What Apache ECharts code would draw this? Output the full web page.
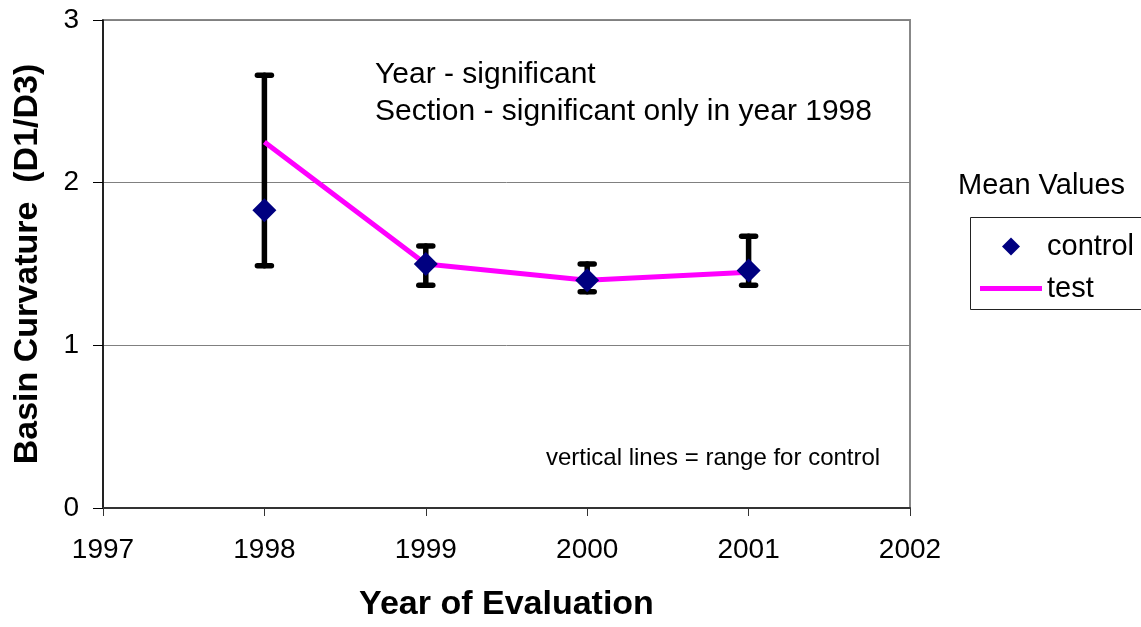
<!DOCTYPE html>
<html>
<head>
<meta charset="utf-8">
<script src="https://cdn.jsdelivr.net/npm/echarts@6/dist/echarts.min.js"></script>
<style>
  html, body { margin: 0; padding: 0; background: #fff; }
  #chart { width: 1141px; height: 627px; }
</style>
</head>
<body>
<div id="chart"></div>
<script>
// Basin curvature by year of evaluation
const years = [1998, 1999, 2000, 2001];
const controlMean = [1.83, 1.50, 1.40, 1.46];
const controlLow = [1.49, 1.37, 1.33, 1.37];
const controlHigh = [2.66, 1.61, 1.50, 1.67];
const testMean = [2.25, 1.50, 1.40, 1.45];
const xTicks = [1997, 1998, 1999, 2000, 2001, 2002];
const yTicks = [0, 1, 2, 3];

const FONT = "'Liberation Sans', Arial, sans-serif";
const DIAMOND = 'path://M0,-1L1,0L0,1L-1,0Z';
const BAR_ICON = 'path://M0,0H60V5H0Z';

const chart = echarts.init(document.getElementById('chart'), null, { renderer: 'canvas' });

const option = {
  backgroundColor: '#fff',
  animation: false,
  textStyle: { fontFamily: FONT },
  grid: {
    left: 103, right: 231, top: 20, bottom: 117,
    show: true, borderColor: '#888', borderWidth: 2, backgroundColor: 'transparent'
  },
  xAxis: {
    type: 'value',
    min: xTicks[0], max: xTicks[xTicks.length - 1], interval: 1,
    name: 'Year of Evaluation',
    nameLocation: 'middle', nameGap: 80,
    nameTextStyle: { fontFamily: FONT, fontSize: 34, fontWeight: 'bold', color: '#000' },
    axisLine: { show: true, lineStyle: { color: '#333', width: 2 } },
    axisTick: { show: true, length: 8, lineStyle: { color: '#333', width: 1 } },
    axisLabel: { fontFamily: FONT, fontSize: 28, color: '#000', margin: 28,
      formatter: v => String(v) },
    splitLine: { show: false }
  },
  yAxis: {
    type: 'value',
    min: yTicks[0], max: yTicks[yTicks.length - 1], interval: 1,
    name: 'Basin Curvature  (D1/D3)',
    nameLocation: 'middle', nameGap: 58,
    nameTextStyle: { fontFamily: FONT, fontSize: 34, fontWeight: 'bold', color: '#000' },
    axisLine: { show: true, lineStyle: { color: '#000', width: 1.5 } },
    axisTick: { show: true, length: 10, lineStyle: { color: '#000', width: 1 } },
    axisLabel: { fontFamily: FONT, fontSize: 28, color: '#000', margin: 24 },
    splitLine: { show: true, lineStyle: { color: '#808080', width: 1 } }
  },
  legend: {
    orient: 'vertical',
    left: 975, top: 227,
    itemWidth: 62, itemHeight: 18, itemGap: 13,
    symbolKeepAspect: true,
    textStyle: { fontFamily: FONT, fontSize: 29, color: '#000' },
    data: [
      { name: 'control', icon: DIAMOND },
      { name: 'test', icon: BAR_ICON }
    ]
  },
  graphic: [
    {
      type: 'rect', z: 0,
      shape: { x: 970.5, y: 217.5, width: 200, height: 92 },
      style: { fill: '#fff', stroke: '#222', lineWidth: 1 }
    },
    {
      type: 'text', left: 958, top: 171,
      style: { text: 'Mean Values', font: "29px " + FONT, fill: '#000' }
    },
    {
      type: 'text', left: 375, top: 56,
      style: {
        text: 'Year - significant\nSection - significant only in year 1998',
        font: "30px " + FONT, lineHeight: 37, fill: '#000'
      }
    },
    {
      type: 'text', left: 546, top: 446,
      style: { text: 'vertical lines = range for control', font: "24px " + FONT, fill: '#000' }
    }
  ],
  series: [
    {
      name: 'range',
      type: 'custom',
      z: 2,
      data: years.map((y, i) => [y, controlLow[i], controlHigh[i]]),
      encode: { x: 0, y: [1, 2] },
      renderItem: function (params, api) {
        const x = api.value(0);
        const lo = api.coord([x, api.value(1)]);
        const hi = api.coord([x, api.value(2)]);
        const half = 7;
        const style = { stroke: '#000', lineWidth: 5.5, lineCap: 'round' };
        return {
          type: 'group',
          children: [
            { type: 'line', shape: { x1: lo[0], y1: lo[1], x2: hi[0], y2: hi[1] }, style: style },
            { type: 'line', shape: { x1: hi[0] - half, y1: hi[1], x2: hi[0] + half, y2: hi[1] }, style: style },
            { type: 'line', shape: { x1: lo[0] - half, y1: lo[1], x2: lo[0] + half, y2: lo[1] }, style: style }
          ]
        };
      }
    },
    {
      name: 'test',
      type: 'line',
      z: 3,
      data: years.map((y, i) => [y, testMean[i]]),
      symbol: 'none',
      showSymbol: false,
      lineStyle: { color: '#FF00FF', width: 5 },
      itemStyle: { color: '#FF00FF' }
    },
    {
      name: 'control',
      type: 'scatter',
      z: 4,
      data: years.map((y, i) => [y, controlMean[i]]),
      symbol: DIAMOND,
      symbolSize: [24, 24],
      itemStyle: { color: '#000080', opacity: 1 }
    }
  ]
};

chart.setOption(option);
</script>
</body>
</html>
